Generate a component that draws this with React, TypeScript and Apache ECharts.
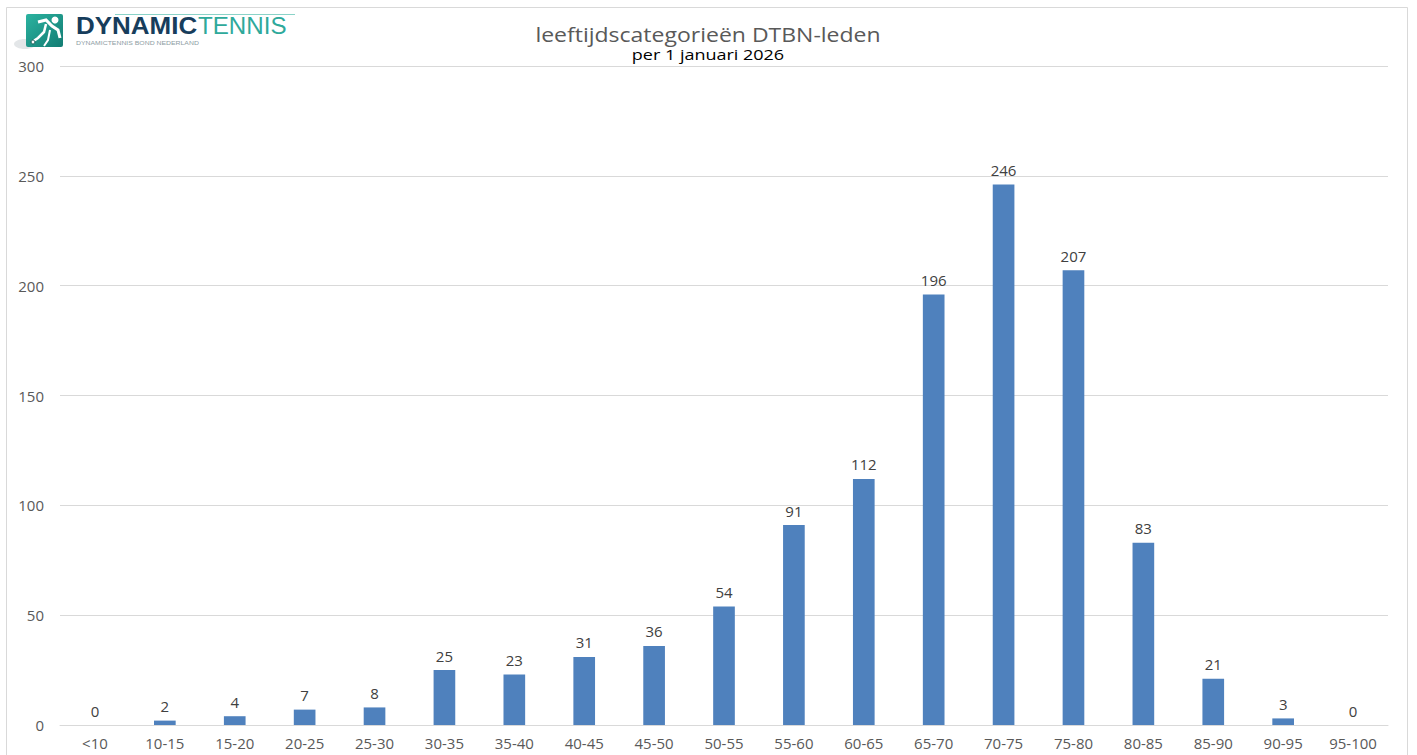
import React, { useEffect, useRef } from "react";
import * as echarts from "echarts";

const categories = ["<10", "10-15", "15-20", "20-25", "25-30", "30-35", "35-40", "40-45", "45-50", "50-55", "55-60", "60-65", "65-70", "70-75", "75-80", "80-85", "85-90", "90-95", "95-100"];
const members = [0, 2, 4, 7, 8, 25, 23, 31, 36, 54, 91, 112, 196, 246, 207, 83, 21, 3, 0];
const titleText = "leeftijdscategorieën DTBN-leden";
const subtitleText = "per 1 januari 2026";

export default function App() {
  const ref = useRef<HTMLDivElement>(null);
  useEffect(() => {
    if (!ref.current) return;
    const chart = echarts.init(ref.current, null, { renderer: "svg" });
    const font = "'Open Sans', 'Noto Sans', sans-serif";
    const logoFont = "'Liberation Sans', Arial, sans-serif";
    chart.setOption({
      animation: false,
      backgroundColor: "#ffffff",
      textStyle: { fontFamily: font },
      grid: { left: 60, right: 29, top: 66, bottom: 30, containLabel: false },
      xAxis: {
        type: "category",
        data: categories,
        axisLine: { show: true, lineStyle: { color: "#d9d9d9", width: 1 } },
        axisTick: { show: false },
        axisLabel: { color: "#595959", fontSize: 15, margin: 10, fontFamily: font, interval: 0 },
      },
      yAxis: {
        type: "value",
        min: 0,
        max: 300,
        interval: 50,
        axisLine: { show: false },
        axisTick: { show: false },
        splitLine: { lineStyle: { color: "#d9d9d9", width: 1 } },
        axisLabel: { color: "#595959", fontSize: 15, margin: 16, fontFamily: font },
      },
      series: [
        {
          type: "bar",
          data: members,
          barWidth: "31%",
          itemStyle: { color: "#4f81bd" },
          label: { show: true, position: "top", distance: 7, color: "#404040", fontSize: 15, fontFamily: font },
        },
      ],
      graphic: [
        { type: "rect", shape: { x: 6.5, y: 7.5, width: 1401, height: 760 }, style: { fill: "none", stroke: "#d9d9d9", lineWidth: 1 }, silent: true },
        { type: "text", x: 708, y: 34, scaleX: 1.15, style: { text: titleText, x: 0, y: 0, fontSize: 20, fill: "#595959", fontFamily: font, align: "center", verticalAlign: "middle" } },
        { type: "text", x: 708, y: 54, scaleX: 1.2, style: { text: subtitleText, x: 0, y: 0, fontSize: 15, fill: "#000000", fontFamily: font, align: "center", verticalAlign: "middle" } },
        // logo
        { type: "ellipse", shape: { cx: 25, cy: 44, rx: 11, ry: 5 }, style: { fill: "#e3e6e8" } },
        {
          type: "rect",
          shape: { x: 26, y: 14, width: 37, height: 33, r: 2 },
          style: {
            fill: new echarts.graphic.LinearGradient(0, 0, 1, 1, [
              { offset: 0, color: "#2bb3a0" },
              { offset: 1, color: "#137c73" },
            ]),
          },
        },
        { type: "circle", shape: { cx: 55, cy: 20, r: 3.5 }, style: { fill: "#ffffff" } },
        { type: "polyline", shape: { points: [[38, 22], [46, 20], [52, 26], [58, 30], [60, 38]] }, style: { stroke: "#ffffff", lineWidth: 3, fill: "none" } },
        { type: "polyline", shape: { points: [[46, 24], [44, 32], [38, 38], [32, 42]] }, style: { stroke: "#ffffff", lineWidth: 2.5, fill: "none" } },
        { type: "polyline", shape: { points: [[50, 30], [48, 40], [44, 46]] }, style: { stroke: "#ffffff", lineWidth: 2, fill: "none" } },
        { type: "circle", shape: { cx: 33, cy: 42, r: 2 }, style: { fill: "#ffffff", stroke: "#1b5e5a", lineWidth: 1 } },
        { type: "line", shape: { x1: 115, y1: 14.5, x2: 295, y2: 14.5 }, style: { stroke: "#8ad3c8", lineWidth: 1 } },
        {
          type: "text",
          x: 76, y: 38, scaleX: 1.13,
          style: { text: "DYNAMIC", fontSize: 23, fontWeight: "bold", fill: "#173d5c", fontFamily: logoFont, verticalAlign: "bottom" },
        },
        {
          type: "text",
          x: 198, y: 38, scaleX: 1.05,
          style: { text: "TENNIS", fontSize: 23, fill: "#2ea99b", fontFamily: logoFont, verticalAlign: "bottom" },
        },
        {
          type: "text",
          x: 76, y: 43, scaleX: 1.25,
          style: { text: "DYNAMICTENNIS BOND NEDERLAND", fontSize: 5.5, fill: "#8d9ca3", fontFamily: logoFont, verticalAlign: "middle" },
        },
      ],
    });
    return () => chart.dispose();
  }, []);
  return <div ref={ref} style={{ position: "fixed", left: 0, top: 0, width: 1417, height: 755 }} />;
}
